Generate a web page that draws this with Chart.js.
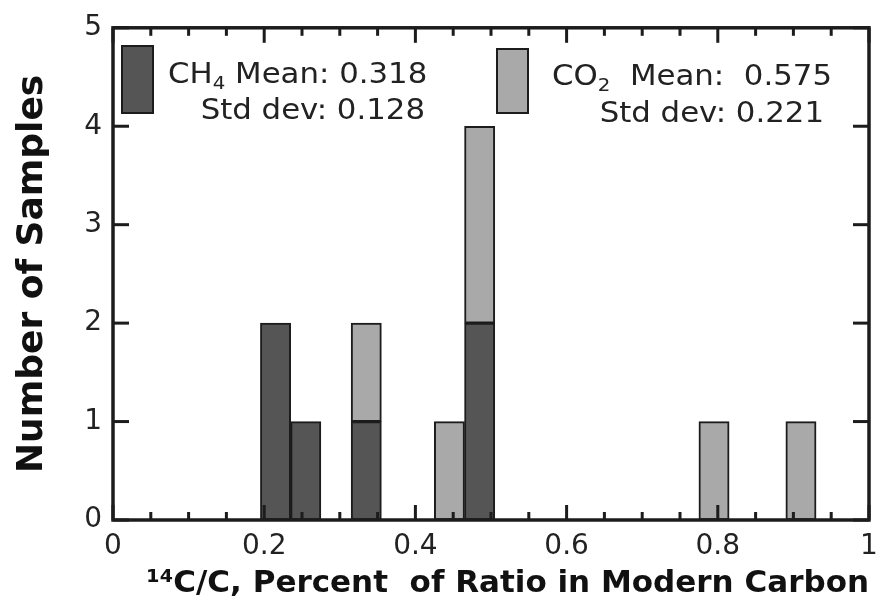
<!DOCTYPE html>
<html>
<head>
<meta charset="utf-8">
<script src="https://cdn.jsdelivr.net/npm/chart.js@4.4.1/dist/chart.umd.min.js"></script>
<style>
  html, body { margin: 0; padding: 0; background: #fff; }
  #wrap { width: 880px; height: 605px; }
</style>
</head>
<body>
<div id="wrap"><canvas id="chart" width="880" height="605"></canvas></div>
<script>
// Histogramme 14C/C : centres des classes et nombre d'echantillons
const ch4Bins = [0.215, 0.255, 0.335, 0.485];
const ch4Counts = [2, 1, 1, 2];
const co2Bins = [0.335, 0.445, 0.485, 0.795, 0.91];
const co2Counts = [1, 1, 2, 1, 1];

const xLabelTicks = [0, 0.2, 0.4, 0.6, 0.8, 1];
const xMinorTicks = [0.05, 0.1, 0.15, 0.25, 0.3, 0.35, 0.45, 0.5, 0.55,
                     0.65, 0.7, 0.75, 0.85, 0.9, 0.95];
const yTicks = [0, 1, 2, 3, 4, 5];

const legendItems = [
    { gas: 'CH', sub: '4', mean: ' Mean: 0.318', sd: 'Std dev: 0.128' },
    { gas: 'CO', sub: '2', mean: '  Mean:  0.575', sd: 'Std dev: 0.221' }
];

const DARK = '#555555';
const LIGHT = '#a9a9a9';
const INK = '#1c1c1c';
const FONT = "'DejaVu Sans', 'Liberation Sans', sans-serif";

const isLabelled = v => xLabelTicks.some(t => Math.abs(t - v) < 1e-6);

// cadre epais + graduations vers l'interieur + legende dessinee a la main
const frameTicks = {
    id: 'frameTicks',
    afterDraw(chart) {
        const { ctx, chartArea: a } = chart;
        const xs = chart.scales.x;
        const ys = chart.scales.y;
        ctx.save();
        ctx.fillStyle = INK;
        ctx.strokeStyle = INK;

        // graduations X : majeures (15 px) et mineures (8 px), haut et bas
        const xPix = v => {
            let px = xs.getPixelForValue(v);
            if (!isFinite(px)) px = xs.getPixelForDecimal((v - xs.min) / (xs.max - xs.min));
            return px;
        };
        const xTick = (v, len) => {
            const px = xPix(v);
            ctx.fillRect(px - 1.5, a.bottom - len, 3, len);
            ctx.fillRect(px - 1.5, a.top, 3, len);
        };
        xLabelTicks.forEach(v => xTick(v, 15));
        xMinorTicks.forEach(v => xTick(v, 8));

        // graduations Y gauche et droite
        yTicks.forEach(v => {
            const py = ys.getPixelForValue(v);
            ctx.fillRect(a.left, py - 1.5, 16, 3);
            ctx.fillRect(a.right - 16, py - 1.5, 16, 3);
        });

        ctx.lineWidth = 3.5;
        ctx.strokeRect(a.left, a.top, a.right - a.left, a.bottom - a.top);

        // legende (texte un peu etire en largeur comme sur l'original)
        const SX = 1.1;
        const text = (s, px, py, size, align) => {
            ctx.save();
            ctx.font = size + 'px ' + FONT;
            ctx.textAlign = align;
            ctx.translate(px, py);
            ctx.scale(SX, 1);
            ctx.fillText(s, 0, 0);
            const w = ctx.measureText(s).width * SX;
            ctx.restore();
            return w;
        };
        const boxes = [
            { x: 122, y: 46, w: 31, h: 67, color: DARK, tx: 168, ty: 83, sdx: 425, sdy: 119 },
            { x: 497, y: 49, w: 31, h: 64, color: LIGHT, tx: 552, ty: 85, sdx: 824, sdy: 122 }
        ];
        legendItems.forEach((it, i) => {
            const b = boxes[i];
            ctx.fillStyle = b.color;
            ctx.fillRect(b.x, b.y, b.w, b.h);
            ctx.lineWidth = 2;
            ctx.strokeRect(b.x, b.y, b.w, b.h);

            ctx.fillStyle = '#222';
            ctx.textBaseline = 'alphabetic';
            let cx = b.tx;
            cx += text(it.gas, cx, b.ty, 28, 'left');
            cx += text(it.sub, cx, b.ty + 6, 18, 'left');
            text(it.mean, cx, b.ty, 28, 'left');
            text(it.sd, b.sdx, b.sdy, 28, 'right');
        });
        ctx.restore();
    }
};

const ctx = document.getElementById('chart').getContext('2d');
new Chart(ctx, {
    type: 'bar',
    data: {
        datasets: [
            {
                label: 'CH4',
                data: ch4Bins.map((b, i) => ({ x: b, y: ch4Counts[i] })),
                backgroundColor: DARK,
                borderColor: INK,
                borderWidth: 2,
                borderSkipped: false,
                barPercentage: 1,
                categoryPercentage: 1
            },
            {
                label: 'CO2',
                data: co2Bins.map((b, i) => ({ x: b, y: co2Counts[i] })),
                backgroundColor: LIGHT,
                borderColor: INK,
                borderWidth: 2,
                borderSkipped: false,
                barPercentage: 1,
                categoryPercentage: 1
            }
        ]
    },
    options: {
        responsive: false,
        maintainAspectRatio: false,
        animation: false,
        devicePixelRatio: 1,
        layout: { padding: { top: 27, right: 11, left: 0, bottom: 0 } },
        plugins: {
            legend: { display: false },
            tooltip: { enabled: false }
        },
        scales: {
            x: {
                type: 'linear',
                stacked: true,
                offset: false,
                min: 0,
                max: 1,
                grid: { display: false, drawTicks: false },
                border: { display: false },
                afterFit: s => {
                    s.height = 85;
                    s.paddingLeft = 0;
                    s.paddingRight = 0;
                },
                ticks: {
                    stepSize: 0.2,
                    autoSkip: false,
                    maxRotation: 0,
                    padding: 10,
                    color: '#222',
                    font: { family: FONT, size: 28 },
                    callback: v => isLabelled(v) ? String(Math.round(v * 10) / 10) : ''
                },
                title: {
                    display: true,
                    align: 'end',
                    text: '\u00b9\u2074C/C, Percent  of Ratio in Modern Carbon',
                    color: '#111',
                    font: { family: FONT, size: 31, weight: 'bold', lineHeight: 1 },
                    padding: { top: 0, bottom: 6 }
                }
            },
            y: {
                stacked: true,
                min: 0,
                max: 5,
                grid: { display: false, drawTicks: false },
                border: { display: false },
                afterFit: s => { s.width = 113; },
                ticks: {
                    stepSize: 1,
                    padding: 11,
                    color: '#222',
                    font: { family: FONT, size: 28 }
                },
                title: {
                    display: true,
                    text: 'Number of Samples',
                    color: '#111',
                    font: { family: FONT, size: 36, weight: 'bold', lineHeight: 1 },
                    padding: { top: 15, bottom: 0 }
                }
            }
        }
    },
    plugins: [frameTicks]
});
</script>
</body>
</html>
